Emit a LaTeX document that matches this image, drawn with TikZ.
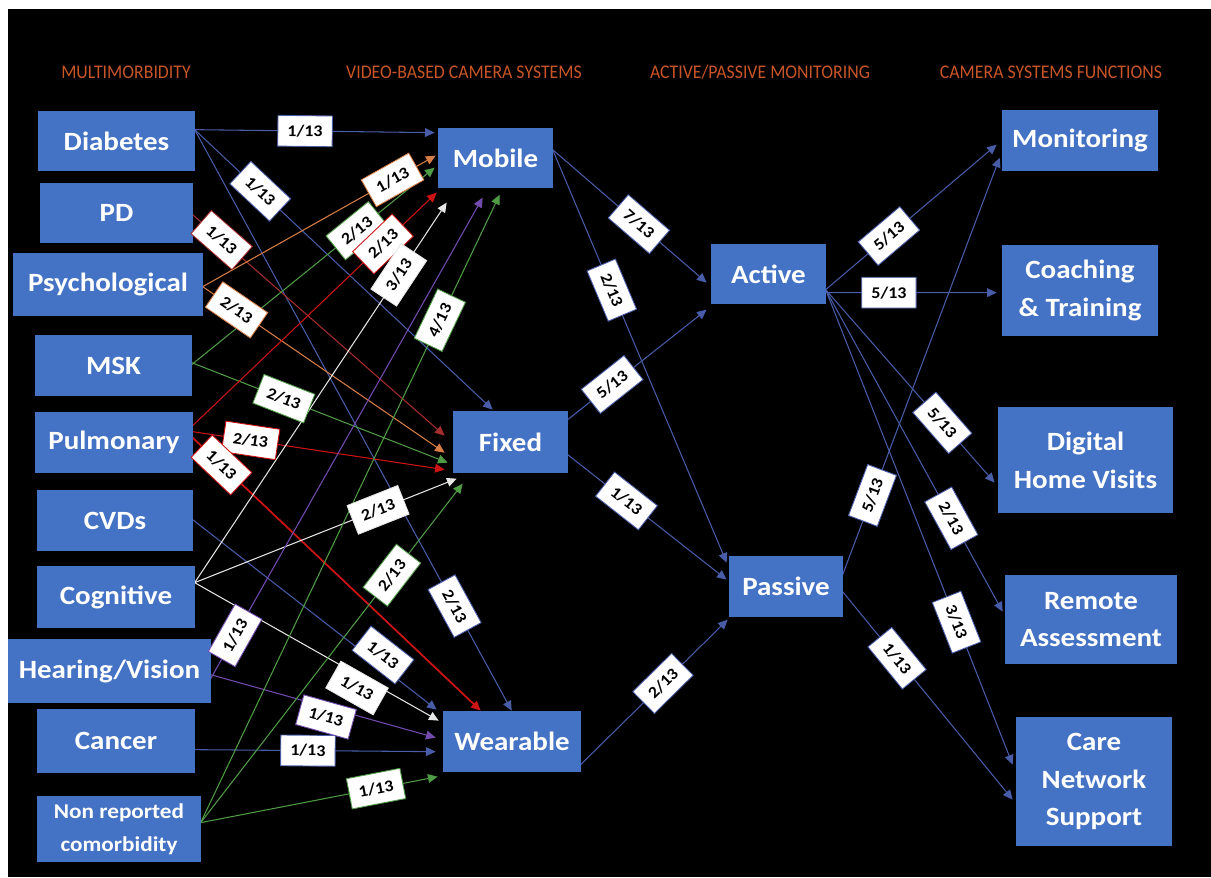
\documentclass[tikz,border=0pt]{standalone}
\usepackage{fontspec}
\setmainfont{Carlito}
\newfontfamily\boxfont[FakeStretch=1.1]{Carlito}
\newfontfamily\hdrfont[FakeStretch=0.92]{Carlito}
\usetikzlibrary{arrows.meta,calc}
\pgfdeclarelayer{back}
\pgfdeclarelayer{bg}
\pgfsetlayers{back,bg,main}
\definecolor{boxblue}{RGB}{68,114,196}
\definecolor{cblue}{RGB}{72,92,168}
\definecolor{cred}{RGB}{205,20,20}
\definecolor{cdred}{RGB}{165,45,45}
\definecolor{corange}{RGB}{215,125,70}
\definecolor{cgreen}{RGB}{80,155,70}
\definecolor{cwhite}{RGB}{230,230,230}
\definecolor{cpurple}{RGB}{115,75,175}
\definecolor{hdrcol}{RGB}{200,85,40}
\tikzset{
  box/.style={fill=boxblue, text=white, align=center, inner sep=0pt,
    font=\boxfont\bfseries\fontsize{15}{21.5}\selectfont},
  labn/.style={fill=white, draw=#1, line width=0.5pt, text=black,
    font=\boxfont\bfseries\fontsize{9.3}{10}\selectfont,
    minimum width=31pt, minimum height=17.5pt, inner sep=1pt},
  lab/.style={labn=#1, sloped},
  con/.style={draw=#1, line width=0.6pt, -{Triangle[length=5.5pt,width=5pt]}},
  hdr/.style={text=hdrcol, font=\hdrfont\fontsize{11}{13}\selectfont}
}
\newcommand\bx[6]{\node[box,minimum width={(#4-#2)*0.5690551pt},minimum height={(#5-#3)*0.5690551pt}] (#1) at ({(#2+#4)/2},{(#3+#5)/2}) {#6};}
\newcommand\edg[6][]{%
  \begin{pgfonlayer}{bg}\draw[con=#2,#1] #3 -- #4;\end{pgfonlayer}
  \path #3 -- node[lab=#2,pos=#5]{#6} #4;}
\newcommand\edgn[3]{%
  \begin{pgfonlayer}{bg}\draw[con=#1] #2 -- #3;\end{pgfonlayer}}
\begin{document}
\begin{tikzpicture}[x=0.02cm,y=-0.02cm]
\begin{pgfonlayer}{back}
\fill[white] (0,0) rectangle (1211,877);
\fill[black] (8,9) rectangle (1211,877);
\end{pgfonlayer}
\useasboundingbox (0,0) rectangle (1211,877);
% headers
\node[hdr] (h1) at (126,72) {MULTIMORBIDITY};
\node[hdr] (h2) at (464,72) {VIDEO-BASED CAMERA SYSTEMS};
\node[hdr] (h3) at (760,72) {ACTIVE/PASSIVE MONITORING};
\node[hdr] (h4) at (1051,72) {CAMERA SYSTEMS FUNCTIONS};
% left column
\bx{Dia}{38}{111}{195}{171}{Diabetes}
\bx{PD}{40}{183}{193}{243}{PD}
\bx{Psy}{13}{253}{203}{316}{Psychological}
\bx{MSK}{35}{335}{192}{396}{MSK}
\bx{Pul}{35}{412}{193}{473}{Pulmonary}
\bx{CVD}{37}{490}{193}{551}{CVDs}
\bx{Cog}{37}{566}{195}{628}{Cognitive}
\bx{HV}{8}{639}{211}{703}{Hearing/Vision}
\bx{Can}{37}{709}{195}{773}{Cancer}
\node[box,font=\boxfont\bfseries\fontsize{12}{19}\selectfont,minimum width={164*0.5690551pt},minimum height={66*0.5690551pt}] (Non) at (119,829) {Non reported\\comorbidity};
% middle
\bx{Mob}{438}{128}{553}{188}{Mobile}
\bx{Fix}{453}{411}{568}{473}{Fixed}
\bx{Wea}{443}{711}{581}{772}{Wearable}
\bx{Act}{711}{244}{826}{304}{Active}
\bx{Pas}{729}{556}{843}{617}{Passive}
% right
\bx{Mon}{1002}{110}{1158}{171}{Monitoring}
\bx{Coa}{1002}{245}{1158}{336}{Coaching\\\& Training}
\bx{Dig}{998}{407}{1173}{513}{Digital\\Home Visits}
\bx{Rem}{1005}{575}{1177}{664}{Remote\\Assessment}
\bx{Car}{1016}{717}{1172}{846}{Care\\Network\\Support}
% multimorbidity -> camera systems
\edg{cblue}{([shift={(157,19)}]Dia.north west)}{([shift={(-3,5)}]Mob.north west)}{0.46}{1/13}
\edg{cblue}{([shift={(157,19)}]Dia.north west)}{([shift={(40,-1)}]Fix.north west)}{0.22}{1/13}
\edg{cblue}{([shift={(157,19)}]Dia.north west)}{([shift={(69,0)}]Wea.north west)}{0.82}{2/13}
\edg{cdred}{([shift={(153,32)}]PD.north west)}{([shift={(-8,25)}]Fix.north west)}{0.115}{1/13}
\edg{corange}{([shift={(190,34)}]Psy.north west)}{([shift={(-2,28)}]Mob.north west)}{0.815}{1/13}
\edg{corange}{([shift={(190,34)}]Psy.north west)}{([shift={(-8,42)}]Fix.north west)}{0.14}{2/13}
\edg{cgreen}{([shift={(157,30)}]MSK.north west)}{([shift={(-3,40)}]Mob.north west)}{0.68}{2/13}
\edg{cgreen}{([shift={(157,28)}]MSK.north west)}{([shift={(-5,52)}]Fix.north west)}{0.36}{2/13}
\edg{cred}{([shift={(158,14)}]Pul.north west)}{([shift={(-1,65)}]Mob.north west)}{0.78}{2/13}
\edg{cred}{([shift={(158,20)}]Pul.north west)}{([shift={(-8,59)}]Fix.north west)}{0.23}{2/13}
\edg[line width=1pt]{cred}{([shift={(158,26)}]Pul.north west)}{([shift={(38,0)}]Wea.north west)}{0.10}{1/13}
\edgn{cblue}{([shift={(156,30)}]CVD.north west)}{([shift={(-6,-1)}]Wea.north west)}
\edg{cwhite}{([shift={(158,17)}]Cog.north west)}{([shift={(9,75)}]Mob.north west)}{0.81}{3/13}
\edg{cwhite}{([shift={(158,17)}]Cog.north west)}{([shift={(4,68)}]Fix.north west)}{0.70}{2/13}
\edgn{cwhite}{([shift={(158,17)}]Cog.north west)}{([shift={(-4,10)}]Wea.north west)}
\edg{cpurple}{([shift={(203,40)}]HV.north west)}{([shift={(45,70)}]Mob.north west)}{0.09}{1/13}
\edgn{cpurple}{([shift={(203,36)}]HV.north west)}{([shift={(-7,27)}]Wea.north west)}
\edg{cblue}{([shift={(158,41)}]Can.north west)}{([shift={(-7,41)}]Wea.north west)}{0.47}{1/13}
\edg{cgreen}{([shift={(164,27)}]Non.north west)}{([shift={(62,67)}]Mob.north west)}{0.80}{4/13}
\edg{cgreen}{([shift={(164,27)}]Non.north west)}{([shift={(10,73)}]Fix.north west)}{0.73}{2/13}
\edg{cgreen}{([shift={(164,27)}]Non.north west)}{([shift={(-5,66)}]Wea.north west)}{0.74}{1/13}
% labels placed beside their lines
\node[labn=cblue, rotate=-38] (lcvd) at (383,655) {1/13};
\node[labn=cwhite, rotate=-29.5] (lcog) at (357,688) {1/13};
\node[labn=cpurple, rotate=-15.6] (lhv) at (326,717) {1/13};
% camera systems -> active/passive
\edg{cblue}{([shift={(115,22)}]Mob.north west)}{([shift={(-4,39)}]Act.north west)}{0.56}{7/13}
\edg{cblue}{([shift={(115,22)}]Mob.north west)}{([shift={(-2,7)}]Pas.north west)}{0.34}{2/13}
\edg{cblue}{([shift={(115,9)}]Fix.north west)}{([shift={(-4,66)}]Act.north west)}{0.32}{5/13}
\edg{cblue}{([shift={(115,44)}]Fix.north west)}{([shift={(-2,24)}]Pas.north west)}{0.37}{1/13}
\edg{cblue}{([shift={(138,54)}]Wea.north west)}{([shift={(-1,64)}]Pas.north west)}{0.56}{2/13}
% active/passive -> functions
\edg{cblue}{([shift={(115,46)}]Act.north west)}{([shift={(-5,35)}]Mon.north west)}{0.37}{5/13}
\edg{cblue}{([shift={(115,49)}]Act.north west)}{([shift={(-5,48)}]Coa.north west)}{0.37}{5/13}
\edg{cblue}{([shift={(115,46)}]Act.north west)}{([shift={(-3,76)}]Dig.north west)}{0.69}{5/13}
\edg{cblue}{([shift={(115,46)}]Act.north west)}{([shift={(-2,37)}]Rem.north west)}{0.71}{2/13}
\edg{cblue}{([shift={(115,46)}]Act.north west)}{([shift={(-3,48)}]Car.north west)}{0.70}{3/13}
\edg{cblue}{([shift={(114,19)}]Pas.north west)}{([shift={(-2,48)}]Mon.north west)}{0.19}{5/13}
\edg{cblue}{([shift={(114,36)}]Pas.north west)}{([shift={(-3,83)}]Car.north west)}{0.32}{1/13}
\end{tikzpicture}
\end{document}
